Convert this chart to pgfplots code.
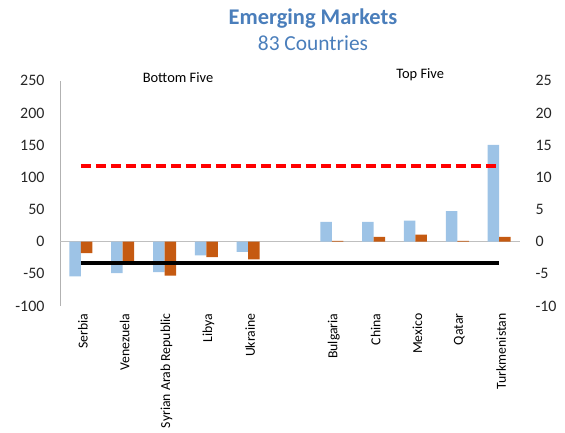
\documentclass[border=0pt]{standalone}
\usepackage{pgfplots}
\pgfplotsset{compat=1.18}
\usepackage{fontspec}
\setmainfont{Carlito}
\definecolor{barblue}{HTML}{9DC3E6}
\definecolor{barorange}{HTML}{C55A11}
\definecolor{titleblue}{HTML}{4A7EBB}
\begin{document}
\begin{tikzpicture}[x=1bp,y=1bp]
\useasboundingbox (0,0) rectangle (565,432);
\pgfplotsset{
  base/.style={
    at={(60bp,126bp)}, anchor=south west,
    scale only axis, width=460bp, height=225.3bp,
    xmin=-0.5, xmax=10.5,
    axis line style={draw=none}, major tick length=0pt,
    /pgf/number format/assume math mode=true,
    yticklabel style={font=\fontsize{16}{18}\selectfont, text=black!85},
    clip=false,
  },
}
% left axis: light blue series, reference lines
\begin{axis}[base,
  ymin=-100, ymax=250, ytick={-100,-50,...,250},
  yticklabel style={xshift=-12bp},
  xtick={0,1,2,3,4,6,7,8,9,10},
  xticklabels={Serbia,Venezuela,Syrian Arab Republic,Libya,Ukraine,Bulgaria,China,Mexico,Qatar,Turkmenistan},
  xticklabel style={rotate=90, anchor=east, font=\fontsize{13.8}{15}\selectfont, xshift=-4bp, yshift=-2bp},
]
\draw[black!30, line width=0.8pt] (rel axis cs:0,0) -- (rel axis cs:0,1);
\draw[black!25, line width=1pt] (axis cs:-0.5,0) -- (axis cs:10.5,0);
\addplot[ybar, bar width=11.5bp, bar shift=-5.75bp, fill=barblue, draw=none]
  coordinates {(0,-54)(1,-49)(2,-47.5)(3,-21.5)(4,-16)(6,30.5)(7,30.5)(8,32.5)(9,47.5)(10,150.5)};
\node[font=\fontsize{22.5}{24}\selectfont\bfseries, text=titleblue] at (rel axis cs:0.55,1.278) {Emerging Markets};
\node[font=\fontsize{21.5}{24}\selectfont, text=titleblue] at (rel axis cs:0.55,1.167) {83 Countries};
\node[font=\fontsize{14.5}{16}\selectfont] at (rel axis cs:0.2565,1.012) {Bottom Five};
\node[font=\fontsize{14.5}{16}\selectfont] at (rel axis cs:0.783,1.025) {Top Five};
\end{axis}
% right axis: orange series
\begin{axis}[base,
  ymin=-10, ymax=25, ytick={-10,-5,...,25},
  axis y line*=right, axis x line=none,
  yticklabel style={xshift=12bp},
]
\addplot[ybar, bar width=11.5bp, bar shift=5.75bp, fill=barorange, draw=none]
  coordinates {(0,-1.8)(1,-3.5)(2,-5.3)(3,-2.4)(4,-2.75)(6,0.1)(7,0.72)(8,1.1)(9,0.1)(10,0.72)};
\addplot[red, line width=3.6bp, dash pattern=on 10bp off 5bp]
  coordinates {(0,11.75)(1,11.75)(2,11.75)(3,11.75)(4,11.75)(5,11.75)(6,11.75)(7,11.75)(8,11.75)(9,11.75)(10,11.75)};
\addplot[black, line width=3.6bp]
  coordinates {(0,-3.35)(1,-3.35)(2,-3.35)(3,-3.35)(4,-3.35)(5,-3.35)(6,-3.35)(7,-3.35)(8,-3.35)(9,-3.35)(10,-3.35)};
\end{axis}
\end{tikzpicture}
\end{document}
